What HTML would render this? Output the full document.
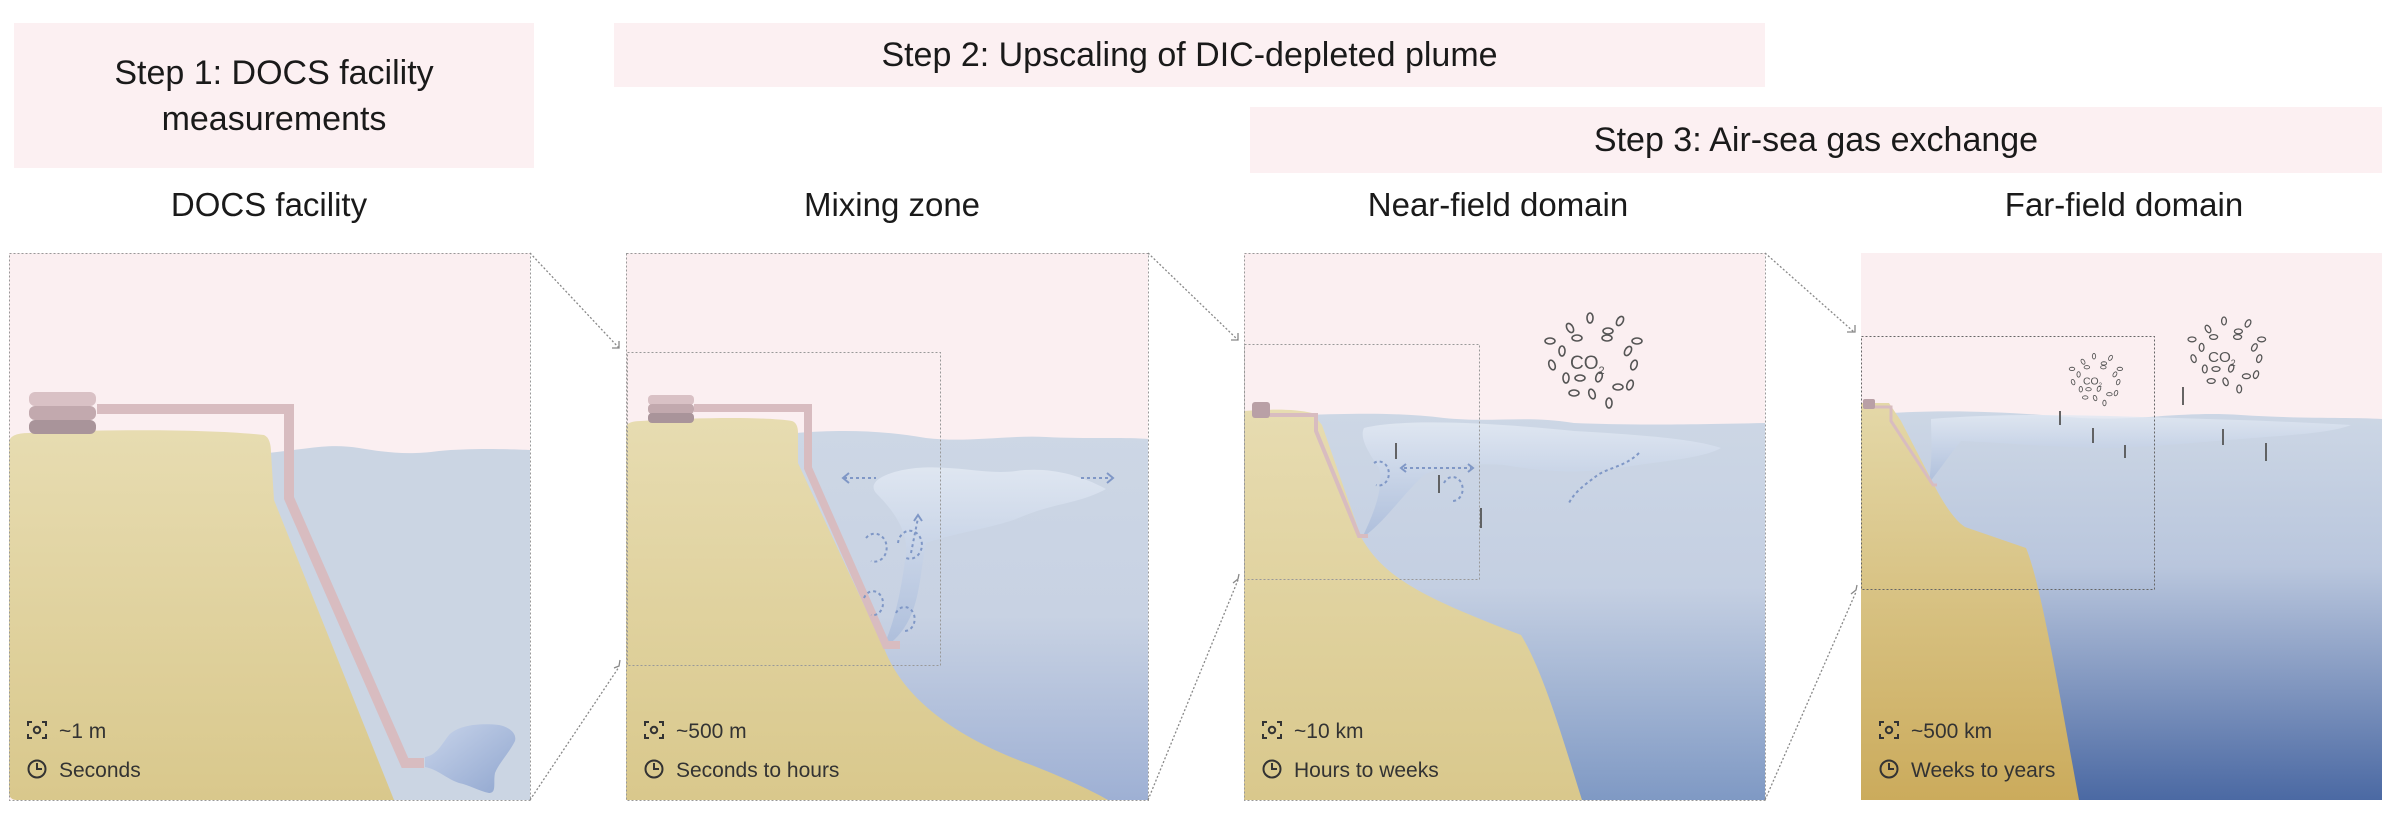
<!DOCTYPE html>
<html><head><meta charset="utf-8"><style>
html,body{margin:0;padding:0;background:#fff;}
body{width:2400px;height:818px;overflow:hidden;position:relative;font-family:"Liberation Sans",sans-serif;}
.box{position:absolute;background:#fcf0f2;color:#1a1a1a;font-size:34px;text-align:center;display:flex;align-items:center;justify-content:center;line-height:46px;}
.t{position:absolute;top:186px;font-size:33px;color:#1a1a1a;text-align:center;width:400px;}
svg{position:absolute;left:0;top:0;}
svg text.l{font-size:21px;fill:#333;}
</style></head><body>
<div class="box" style="left:14px;top:23px;width:520px;height:145px;">Step 1: DOCS facility<br>measurements</div>
<div class="box" style="left:614px;top:23px;width:1151px;height:64px;">Step 2: Upscaling of DIC-depleted plume</div>
<div class="box" style="left:1250px;top:107px;width:1132px;height:66px;">Step 3: Air-sea gas exchange</div>
<div class="t" style="left:69px;">DOCS facility</div>
<div class="t" style="left:692px;">Mixing zone</div>
<div class="t" style="left:1298px;">Near-field domain</div>
<div class="t" style="left:1924px;">Far-field domain</div>

<svg width="2400" height="818" viewBox="0 0 2400 818">
<defs>
<linearGradient id="sand" x1="0" y1="0" x2="0" y2="1"><stop offset="0" stop-color="#e7dcb1"/><stop offset="1" stop-color="#d9c88c"/></linearGradient>
<linearGradient id="sand4" x1="0" y1="0" x2="0" y2="1"><stop offset="0" stop-color="#e4d8a8"/><stop offset="1" stop-color="#cbab5c"/></linearGradient>
<linearGradient id="w2" x1="0" y1="0" x2="0" y2="1"><stop offset="0" stop-color="#cdd7e5"/><stop offset="0.5" stop-color="#c8d2e3"/><stop offset="1" stop-color="#9eb0d4"/></linearGradient>
<linearGradient id="w3" x1="0" y1="0" x2="0" y2="1"><stop offset="0" stop-color="#cdd7e5"/><stop offset="0.45" stop-color="#c4cfe2"/><stop offset="1" stop-color="#7f99c4"/></linearGradient>
<linearGradient id="w4" x1="0" y1="0" x2="0" y2="1"><stop offset="0" stop-color="#cdd7e5"/><stop offset="0.4" stop-color="#b9c6dd"/><stop offset="1" stop-color="#4b69a3"/></linearGradient>
<linearGradient id="pl" x1="0" y1="0" x2="0" y2="1"><stop offset="0" stop-color="#e2e9f3"/><stop offset="1" stop-color="#a9bbda"/></linearGradient>
<linearGradient id="pl1" x1="0" y1="0" x2="1" y2="1"><stop offset="0" stop-color="#c8d4ea"/><stop offset="1" stop-color="#90a6cf"/></linearGradient>
<g id="scale"><circle cx="10" cy="10" r="3.2" fill="none" stroke="#333" stroke-width="2"/><path d="M1 6V2H5 M15 2H19V6 M19 14V18H15 M5 18H1V14" fill="none" stroke="#333" stroke-width="2"/></g>
<g id="clock"><circle cx="10" cy="10" r="8.5" fill="none" stroke="#333" stroke-width="2"/><path d="M10 4V10H15" fill="none" stroke="#333" stroke-width="2"/></g>
<g id="co2" fill="none" stroke="#555" stroke-width="1.6">
<ellipse cx="0" cy="-45" rx="3" ry="5"/><ellipse cx="-20" cy="-35" rx="3" ry="5" transform="rotate(-30 -20 -35)"/><ellipse cx="18" cy="-32" rx="5" ry="3"/><ellipse cx="30" cy="-42" rx="3" ry="5" transform="rotate(30 30 -42)"/>
<ellipse cx="-40" cy="-22" rx="5" ry="3"/><ellipse cx="-13" cy="-25" rx="5" ry="3"/><ellipse cx="17" cy="-25" rx="5" ry="3"/><ellipse cx="47" cy="-22" rx="5" ry="3"/>
<ellipse cx="-28" cy="-12" rx="3" ry="5"/><ellipse cx="38" cy="-12" rx="3" ry="5" transform="rotate(30 38 -12)"/><ellipse cx="-38" cy="2" rx="3" ry="5" transform="rotate(-20 -38 2)"/><ellipse cx="44" cy="2" rx="3" ry="5" transform="rotate(20 44 2)"/>
<ellipse cx="-24" cy="15" rx="3" ry="5"/><ellipse cx="-10" cy="15" rx="5" ry="3"/><ellipse cx="9" cy="14" rx="3" ry="5" transform="rotate(20 9 14)"/><ellipse cx="28" cy="24" rx="5" ry="3"/><ellipse cx="40" cy="22" rx="3" ry="5" transform="rotate(20 40 22)"/>
<ellipse cx="-16" cy="30" rx="5" ry="3"/><ellipse cx="2" cy="31" rx="3" ry="5" transform="rotate(-20 2 31)"/><ellipse cx="19" cy="40" rx="3" ry="5"/>
<text x="-20" y="6" font-family="Liberation Sans,sans-serif" font-size="19" fill="#555" stroke="none">CO<tspan font-size="11" dy="5">2</tspan></text>
</g>
</defs>

<!-- Panel 1 -->
<g transform="translate(9,253)">
<rect width="521" height="547" fill="#fbeff1"/>
<path d="M258 200 C300 196 320 190 350 195 C380 200 400 202 430 198 C460 195 500 196 521 197 V547 H258Z" fill="#cbd5e3"/>
<path d="M0 190 Q0 180 20 180 C100 176 200 176 255 182 Q262 185 262 200 L265 247 L385 547 H8 Q0 547 0 539Z" fill="url(#sand)"/>
<path d="M88 156 H280 V245 L396 510 H415" fill="none" stroke="#d8bcc0" stroke-width="10"/>
<rect x="20" y="139" width="67" height="14" rx="6" fill="#d9c1c5"/>
<rect x="20" y="153" width="67" height="14" rx="6" fill="#c2a9ae"/>
<rect x="20" y="167" width="67" height="14" rx="6" fill="#a9949a"/>
<path d="M416 504 C428 502 432 492 440 482 C450 472 470 470 490 472 C500 474 508 480 506 488 C500 500 490 510 486 520 C484 530 488 540 480 540 C470 538 460 532 450 530 C438 526 428 516 416 514Z" fill="url(#pl1)"/>
<use href="#scale" x="18" y="467"/><text class="l" x="50" y="485">~1 m</text>
<use href="#clock" x="18" y="506"/><text class="l" x="50" y="524">Seconds</text>
</g>
<rect x="9.5" y="253.5" width="521" height="547" fill="none" stroke="#999" stroke-dasharray="2,2"/>

<!-- Panel 2 -->
<g transform="translate(626,253)">
<rect width="522" height="547" fill="#fbeff1"/>
<path d="M170 180 C220 176 260 178 300 185 C340 190 380 182 420 184 C460 186 500 184 522 186 V547 H170Z" fill="url(#w2)"/>
<path d="M0 175 Q0 168 15 168 C80 164 140 164 166 168 Q172 170 172 180 L172 210 L258 395 C275 440 320 480 400 510 C440 525 470 540 482 547 H0Z" fill="url(#sand)"/>
<path d="M258 392 C268 370 275 340 280 300 C282 280 270 260 250 240 C240 228 262 218 290 215 C330 212 360 222 390 218 C420 214 450 220 480 236 C455 250 430 250 400 262 C370 275 335 278 300 290 C292 330 295 370 258 395Z" fill="url(#pl)" opacity=".85"/>
<path d="M68 155 H182 V215 L260 392 H274" fill="none" stroke="#d8bcc0" stroke-width="8"/>
<rect x="22" y="142" width="46" height="10" rx="4" fill="#d9c1c5"/>
<rect x="22" y="151" width="46" height="10" rx="4" fill="#c2a9ae"/>
<rect x="22" y="160" width="46" height="10" rx="4" fill="#a9949a"/>
<g fill="none" stroke="#7f97c6" stroke-width="2" stroke-dasharray="3,3">
<path d="M218 225 H250"/><path d="M223 220 L217 225 L223 230" stroke-dasharray="none"/>
<path d="M455 225 H485"/><path d="M481 220 L487 225 L481 230" stroke-dasharray="none"/>
<path d="M285 300 L292 265"/><path d="M288 268 L292 262 L296 268" stroke-dasharray="none"/>
<path d="M240 285 A12 14 0 1 1 245 308"/><path d="M272 290 A12 14 0 1 1 280 305"/>
<path d="M238 345 A10 12 0 1 1 245 362"/><path d="M270 360 A10 12 0 1 1 278 378"/>
</g>
<use href="#scale" x="18" y="467"/><text class="l" x="50" y="485">~500 m</text>
<use href="#clock" x="18" y="506"/><text class="l" x="50" y="524">Seconds to hours</text>
</g>
<rect x="626.5" y="253.5" width="522" height="547" fill="none" stroke="#999" stroke-dasharray="2,2"/>
<rect x="627.5" y="352.5" width="313" height="313" fill="none" stroke="#999" stroke-dasharray="2,2"/>

<!-- Panel 3 -->
<g transform="translate(1244,253)">
<rect width="521" height="547" fill="#fbeff1"/>
<path d="M60 162 C120 160 160 160 200 165 C250 170 280 162 330 170 C380 172 430 172 521 170 V547 H60Z" fill="url(#w3)"/>
<path d="M120 175 C160 165 250 170 330 178 C400 182 450 186 477 195 C460 205 420 208 380 214 C330 222 300 218 260 212 C230 210 200 212 180 222 C160 240 140 270 118 285 C130 260 140 235 135 215 C125 200 115 185 120 175Z" fill="url(#pl)" opacity=".85"/>
<path d="M0 158 C30 156 50 156 68 160 L78 172 L117 284 C140 325 180 345 277 382 C300 420 320 490 338 547 H0Z" fill="url(#sand)"/>
<path d="M26 162 H72 V178 L115 283 H124" fill="none" stroke="#d8bcc0" stroke-width="4"/>
<rect x="8" y="149" width="18" height="16" rx="3" fill="#b9a0a6"/>
<g fill="none" stroke="#7f97c6" stroke-width="2" stroke-dasharray="3,3">
<path d="M160 215 H227"/><path d="M162 211 L157 215 L162 219 M224 211 L229 215 L224 219" stroke-dasharray="none"/>
<path d="M395 200 C380 215 360 215 350 225 C340 232 330 240 325 250"/>
<path d="M130 210 A10 12 0 1 1 132 232"/><path d="M200 230 A10 12 0 1 1 208 248"/>
</g>
<path d="M152 190 V206 M195 222 V240 M237 255 V275" stroke="#555" stroke-width="1.8"/>
<use href="#co2" transform="translate(346,110)"/>
<use href="#scale" x="18" y="467"/><text class="l" x="50" y="485">~10 km</text>
<use href="#clock" x="18" y="506"/><text class="l" x="50" y="524">Hours to weeks</text>
</g>
<rect x="1244.5" y="253.5" width="521" height="547" fill="none" stroke="#999" stroke-dasharray="2,2"/>
<rect x="1244.5" y="344.5" width="235" height="235" fill="none" stroke="#999" stroke-dasharray="2,2"/>

<!-- Panel 4 -->
<g transform="translate(1861,253)">
<rect width="521" height="547" fill="#fbeff1"/>
<path d="M30 160 C100 156 160 160 220 165 C280 168 320 158 380 162 C440 166 490 164 521 166 V547 H30Z" fill="url(#w4)"/>
<path d="M70 166 C140 160 220 162 280 164 C350 166 420 168 490 172 C470 180 430 182 380 186 C330 190 290 194 250 195 C200 195 150 190 100 188 C90 200 80 215 68 230 C72 200 70 180 70 166Z" fill="url(#pl)" opacity=".8"/>
<path d="M0 150 H28 L40 168 L73 232 C85 255 95 268 104 274 L165 295 C180 330 200 450 218 547 H0Z" fill="url(#sand4)"/>
<path d="M12 154 H30 V168 L72 232 H76" fill="none" stroke="#d8bcc0" stroke-width="3"/>
<rect x="2" y="146" width="12" height="10" rx="2" fill="#b9a0a6"/>
<path d="M199 158 V172 M232 175 V190 M264 192 V205 M322 134 V152 M362 176 V192 M405 190 V208" stroke="#555" stroke-width="1.8"/>
<use href="#co2" transform="translate(233,128) scale(0.55)"/>
<use href="#co2" transform="translate(363,104) scale(0.8)"/>
<use href="#scale" x="18" y="467"/><text class="l" x="50" y="485">~500 km</text>
<use href="#clock" x="18" y="506"/><text class="l" x="50" y="524">Weeks to years</text>
</g>
<rect x="1861.5" y="336.5" width="293" height="253" fill="none" stroke="#666" stroke-dasharray="2,2"/>

<!-- connectors -->
<g fill="none" stroke="#888" stroke-width="1.3" stroke-dasharray="2,2">
<path d="M530 253 L619 348"/><path d="M530 800 L619 667"/>
<path d="M1148 253 L1238 340"/><path d="M1148 800 L1238 580"/>
<path d="M1765 253 L1854 332"/><path d="M1765 800 L1856 592"/>
</g>
<g fill="none" stroke="#888" stroke-width="1.3">
<path d="M612 348 H619 V341"/><path d="M614 668 L619 666 L620 660"/>
<path d="M1231 340 H1238 V333"/><path d="M1233 583 L1238 579 L1239 574"/>
<path d="M1847 332 H1855 V325"/><path d="M1851 594 L1856 590 L1857 585"/>
</g>
</svg>
</body></html>
